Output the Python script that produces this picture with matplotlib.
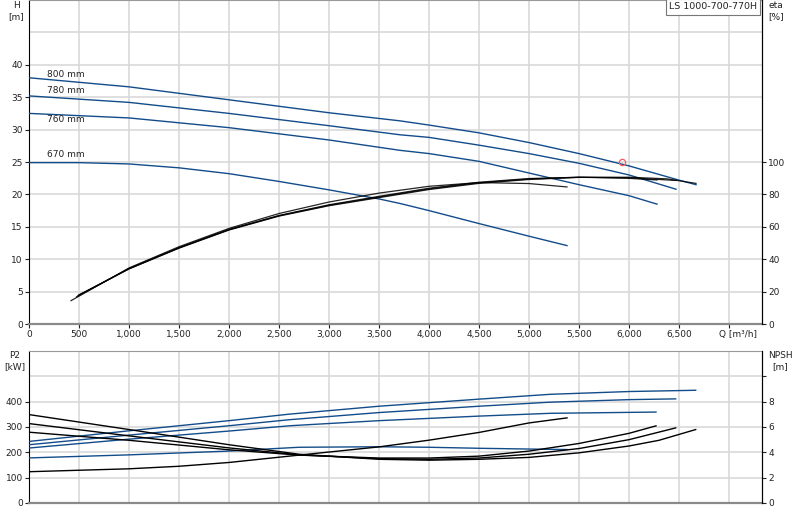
import numpy as np
import matplotlib.pyplot as plt
from matplotlib.ticker import FuncFormatter

# ---- data ----
# H curves (head, m) per impeller diameter
Q_h800 = [0, 500, 1000, 2000, 3000, 3710, 4000, 4500, 5000, 5500, 6000, 6500, 6670]
H_800 = [38.0, 37.3, 36.6, 34.6, 32.6, 31.35, 30.7, 29.5, 28.0, 26.3, 24.4, 22.2, 21.5]
Q_h780 = [0, 1000, 2000, 3000, 3710, 4000, 4500, 5000, 5500, 6000, 6470]
H_780 = [35.2, 34.2, 32.5, 30.6, 29.2, 28.8, 27.6, 26.3, 24.8, 23.0, 20.8]
Q_h760 = [0, 1000, 2000, 3000, 3710, 4000, 4500, 5000, 5500, 6000, 6280]
H_760 = [32.5, 31.8, 30.3, 28.4, 26.8, 26.3, 25.1, 23.3, 21.5, 19.8, 18.5]
Q_h670 = [0, 500, 1000, 1500, 2000, 2500, 3000, 3500, 3710, 4000, 4500, 5000, 5380]
H_670 = [24.9, 24.9, 24.7, 24.1, 23.2, 22.0, 20.7, 19.3, 18.6, 17.5, 15.5, 13.55, 12.1]

curve_labels = ['800 mm', '780 mm', '760 mm', '670 mm']
label_Q = [180, 180, 180, 180]
label_H = [38.5, 36.0, 31.6, 26.1]

# efficiency (%)
Q_e800 = [500, 1000, 1500, 2000, 2500, 3000, 3500, 4000, 4500, 5000, 5500, 6000, 6380, 6670]
eta_800 = [18.0, 34.0, 46.8, 58.0, 66.6, 73.0, 78.0, 83.0, 86.8, 89.2, 90.5, 90.6, 89.6, 86.8]
Q_e780 = [490, 1000, 1500, 2000, 2500, 3000, 3500, 4000, 4500, 5000, 5500, 6000, 6470]
eta_780 = [17.5, 34.1, 47.0, 58.2, 66.8, 73.3, 78.4, 83.4, 87.2, 89.5, 90.6, 90.3, 88.6]
Q_e760 = [476, 1000, 1500, 2000, 2500, 3000, 3500, 4000, 4500, 5000, 5500, 6000, 6280]
eta_760 = [16.8, 34.2, 47.1, 58.4, 67.0, 73.6, 78.8, 83.8, 87.5, 89.8, 90.6, 89.9, 88.9]
Q_e670 = [420, 1000, 1500, 2000, 2500, 3000, 3500, 4000, 4500, 5000, 5380]
eta_670 = [14.4, 34.6, 47.7, 59.0, 68.2, 75.3, 80.8, 85.0, 87.3, 86.7, 84.6]

# duty point
duty_Q = 5930
duty_H = 25.0

# P2 power (kW)
Q_p800 = [0, 1000, 2000, 2610, 3500, 4500, 5210, 6000, 6667]
P2_800 = [243, 285, 325, 351, 382, 410, 429, 440, 445]
Q_p780 = [0, 1000, 2000, 2610, 3500, 4500, 5210, 6000, 6467]
P2_780 = [230, 268, 305, 329, 357, 382, 398, 408, 411]
Q_p760 = [0, 1000, 2000, 2610, 3500, 4500, 5210, 6270]
P2_760 = [217, 252, 284, 305, 325, 343, 354, 359]
Q_p670 = [0, 1000, 2000, 2700, 3500, 4000, 4500, 5000, 5380]
P2_670 = [178, 190, 205, 220, 222, 220, 216, 213, 211]

# NPSH (m)
Q_n800 = [0, 1000, 2000, 2700, 3500, 4000, 4500, 5000, 5500, 6000, 6300, 6667]
NPSH_800 = [6.98, 5.8, 4.6, 3.85, 3.45, 3.38, 3.45, 3.6, 3.96, 4.5, 4.95, 5.8]
Q_n780 = [0, 1000, 2000, 2700, 3500, 4000, 4500, 5000, 5500, 6000, 6467]
NPSH_780 = [6.27, 5.3, 4.35, 3.8, 3.5, 3.45, 3.55, 3.85, 4.3, 5.0, 5.93]
Q_n760 = [0, 1000, 2000, 2700, 3500, 4000, 4500, 5000, 5500, 6000, 6270]
NPSH_760 = [5.59, 4.95, 4.2, 3.78, 3.55, 3.55, 3.7, 4.1, 4.7, 5.5, 6.09]
Q_n670 = [0, 1000, 1500, 2000, 2700, 3500, 4000, 4500, 5000, 5380]
NPSH_670 = [2.47, 2.7, 2.9, 3.2, 3.78, 4.43, 4.96, 5.57, 6.32, 6.72]

# ---- styling ----
plt.rcParams['font.family'] = ['DejaVu Sans']
fs = 6.5
blue = '#134c8a'
gridc = '#d9d9d9'
txtc = '#222222'

fig = plt.figure(figsize=(8, 5.2), dpi=100)
ax1 = fig.add_axes([29/800, 1-324/520, 733/800, 324/520])
ax2 = fig.add_axes([29/800, 1-503/520, 733/800, 152/520])

xmax = 7330
xt = np.arange(0, 7001, 500)


def styleAxes(ax, ymax, ystep, ylab_max):
    ax.set_xlim(0, xmax)
    ax.set_ylim(0, ymax)
    ax.set_xticks(xt)
    # labelled ticks as major, the rest of the grid as minor without tick marks
    ax.set_yticks(np.arange(0, ylab_max + 0.01, ystep))
    ax.set_yticks(np.arange(ylab_max + ystep, ymax + 0.01, ystep), minor=True)
    ax.grid(True, which='both', color=gridc, lw=1.2, zorder=0)
    ax.set_axisbelow(True)
    ax.spines['left'].set_color('black')
    ax.spines['right'].set_color('black')
    ax.spines['top'].set_color('#999999')
    ax.spines['bottom'].set_color('#8a8a8a')
    ax.spines['bottom'].set_linewidth(1.6)
    ax.tick_params(axis='both', labelsize=fs, colors=txtc, length=3, pad=1.5, width=0.8)
    ax.tick_params(axis='y', which='minor', length=0)


styleAxes(ax1, 50, 5, 40)
styleAxes(ax2, 600, 100, 400)

ax1.xaxis.set_major_formatter(FuncFormatter(
    lambda v, p: '{:,.0f}'.format(v) if v <= 6500 else ''))
ax2.set_xticklabels([])
ax2.tick_params(axis='x', length=0)

# top panel: head curves
for q, h in [(Q_h800, H_800), (Q_h780, H_780), (Q_h760, H_760), (Q_h670, H_670)]:
    ax1.plot(q, h, color=blue, lw=1.0, zorder=3)
for lab, lq, lh in zip(curve_labels, label_Q, label_H):
    ax1.text(lq, lh, lab, fontsize=fs, color=txtc, va='center', ha='left')
ax1.plot(duty_Q, duty_H, 'o', mfc='none', mec='#ff5a5a', mew=0.9, ms=4.5, zorder=5)

# efficiency on right axis
ax1r = ax1.twinx()
ax1r.set_ylim(0, 200)
ax1r.set_yticks(np.arange(0, 101, 20))
for q, e in [(Q_e670, eta_670), (Q_e760, eta_760), (Q_e780, eta_780), (Q_e800, eta_800)]:
    ax1r.plot(q, e, color='black', lw=0.9, alpha=0.85, zorder=3)
ax1r.tick_params(axis='y', labelsize=fs, colors=txtc, length=3, pad=1.5, width=0.8)
for s in ['left', 'top', 'bottom']:
    ax1r.spines[s].set_visible(False)
ax1r.spines['right'].set_color('black')

# bottom panel: power
for q, p in [(Q_p800, P2_800), (Q_p780, P2_780), (Q_p760, P2_760), (Q_p670, P2_670)]:
    ax2.plot(q, p, color=blue, lw=1.0, zorder=3)

ax2r = ax2.twinx()
ax2r.set_ylim(0, 12)
ax2r.set_yticks(np.arange(0, 10.1, 2))
ax2r.yaxis.set_major_formatter(FuncFormatter(lambda v, p: ('%d' % v) if v <= 8 else ''))
for q, n in [(Q_n800, NPSH_800), (Q_n780, NPSH_780), (Q_n760, NPSH_760), (Q_n670, NPSH_670)]:
    ax2r.plot(q, n, color='black', lw=1.0, zorder=3)
ax2r.tick_params(axis='y', labelsize=fs, colors=txtc, length=3, pad=1.5, width=0.8)
for s in ['left', 'top', 'bottom']:
    ax2r.spines[s].set_visible(False)
ax2r.spines['right'].set_color('black')

# axis titles
fig.text(16/800, 1-5/520, 'H', fontsize=fs, color=txtc, ha='center', va='center')
fig.text(16/800, 1-17/520, '[m]', fontsize=fs, color=txtc, ha='center', va='center')
fig.text(776/800, 1-5/520, 'eta', fontsize=fs, color=txtc, ha='center', va='center')
fig.text(776/800, 1-17/520, '[%]', fontsize=fs, color=txtc, ha='center', va='center')
fig.text(757/800, 1-335/520, 'Q [m\u00b3/h]', fontsize=fs, color=txtc, ha='right', va='center')
fig.text(15/800, 1-356/520, 'P2', fontsize=fs, color=txtc, ha='center', va='center')
fig.text(15/800, 1-367/520, '[kW]', fontsize=fs, color=txtc, ha='center', va='center')
fig.text(780/800, 1-356/520, 'NPSH', fontsize=fs, color=txtc, ha='center', va='center')
fig.text(780/800, 1-367/520, '[m]', fontsize=fs, color=txtc, ha='center', va='center')

# product name box
ax1.text(0.993, 0.993, 'LS 1000-700-770H', transform=ax1.transAxes, fontsize=6.8,
         color=txtc, ha='right', va='top', zorder=6,
         bbox=dict(boxstyle='square,pad=0.35', fc='white', ec='#777777', lw=0.8))

fig.savefig('out.png', dpi=100)
